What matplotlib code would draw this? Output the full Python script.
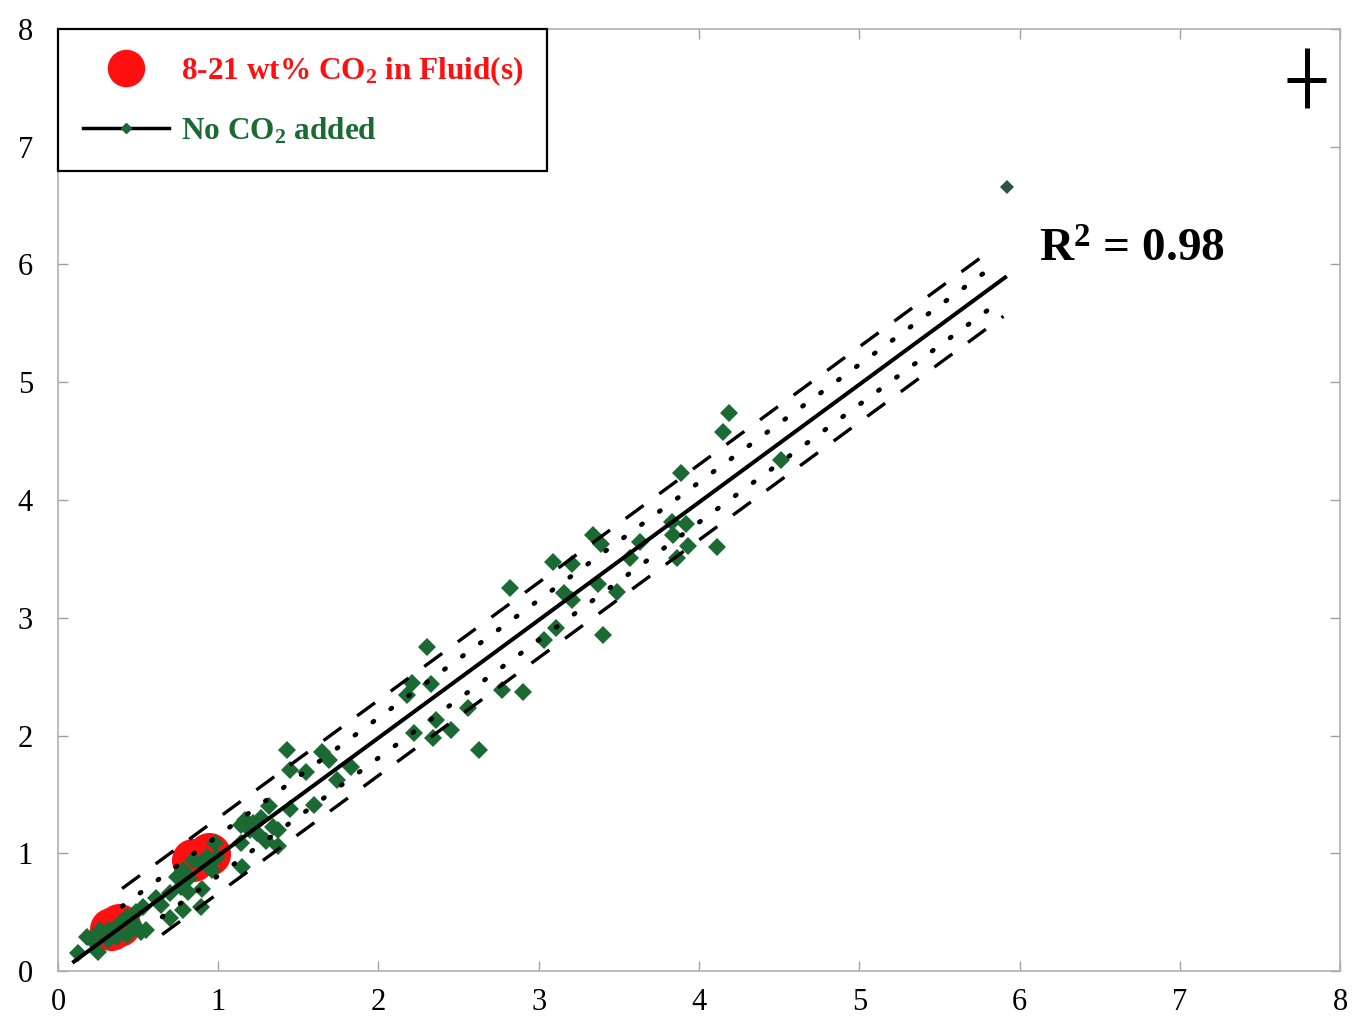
import numpy as np
import matplotlib
matplotlib.use("Agg")
import matplotlib.pyplot as plt
from matplotlib.lines import Line2D

plt.rcParams['font.family'] = ['Liberation Serif', 'DejaVu Serif']
plt.rcParams['mathtext.fontset'] = 'custom'
plt.rcParams['mathtext.rm'] = 'Liberation Serif:bold'
plt.rcParams['mathtext.bf'] = 'Liberation Serif:bold'
plt.rcParams['mathtext.default'] = 'rm'
plt.rcParams['lines.scale_dashes'] = False

# runs with CO2 in the fluid
co2_x = [0.33, 0.38, 0.84, 0.94]
co2_y = [0.36, 0.39, 0.94, 0.99]

# runs without CO2
noco2_x = [5.92, 4.19, 4.15, 3.89, 4.51,
           3.34, 3.39, 3.63, 3.83, 3.92, 3.84, 3.93, 3.86, 4.11, 3.57, 3.09, 3.21,
           3.37, 3.49, 3.16, 3.21, 3.11, 3.03, 3.40,
           2.82, 2.30, 2.21, 2.33, 2.18, 2.77, 2.90,
           2.56, 2.36, 2.22, 2.45, 2.34, 2.63,
           1.43, 1.65, 1.69, 1.45, 1.55, 1.83, 1.74,
           1.32, 1.45, 1.60,
           1.17, 1.27, 1.20, 1.34, 1.37, 1.14, 1.30, 1.37, 1.24, 1.15, 1.14, 1.22,
           0.98, 0.93, 0.99, 0.96, 0.89, 0.84, 0.78, 0.74, 0.82, 0.77, 0.70, 0.90,
           0.81, 0.89, 0.78, 0.70, 0.64, 0.53, 0.61, 0.49, 0.52, 0.43, 0.39, 0.32,
           0.26, 0.31, 0.21, 0.18, 0.25, 0.125, 0.43, 0.37, 0.47, 0.55]
noco2_y = [6.66, 4.74, 4.58, 4.23, 4.34,
           3.70, 3.63, 3.64, 3.81, 3.80, 3.70, 3.61, 3.51, 3.60, 3.51, 3.47, 3.46,
           3.29, 3.22, 3.21, 3.15, 2.91, 2.81, 2.85,
           3.25, 2.75, 2.45, 2.44, 2.34, 2.39, 2.37,
           2.23, 2.13, 2.02, 2.05, 1.98, 1.88,
           1.88, 1.86, 1.79, 1.71, 1.69, 1.73, 1.62,
           1.40, 1.38, 1.41,
           1.28, 1.30, 1.20, 1.22, 1.20, 1.09, 1.10, 1.06, 1.17, 0.88, 1.24, 1.26,
           1.09, 0.97, 0.97, 0.86, 0.92, 0.94, 0.86, 0.80, 0.79, 0.71, 0.66, 0.70,
           0.67, 0.54, 0.52, 0.45, 0.56, 0.54, 0.62, 0.50, 0.33, 0.46, 0.41, 0.35,
           0.35, 0.26, 0.26, 0.29, 0.16, 0.15, 0.31, 0.29, 0.41, 0.35]

# linear fit and its bands
fit_intercept = -0.02
fit_slope = 1.0
fit_range = [0.1, 5.91]
conf_half = 0.17
pred_half = 0.32
upper_range = [0.4, 5.8]
lower_range = [0.65, 5.9]
r_squared = 0.98

axis_ticks = [0, 1, 2, 3, 4, 5, 6, 7, 8]

red = '#ff1010'
green = '#1b6a34'

fig = plt.figure(figsize=(13.54, 10.23), dpi=100)
ax = fig.add_axes([0.0428, 0.0508, 0.9469, 0.9209])

ax.plot(co2_x, co2_y, 'o', color=red, markersize=31, markeredgewidth=0, zorder=2)
ax.plot(noco2_x[1:], noco2_y[1:], 'D', color=green, markersize=9,
        markeredgewidth=0, zorder=3)
# the outlying high run is drawn a little darker
ax.plot(noco2_x[:1], noco2_y[:1], 'D', color='#2b5443', markersize=7.5,
        markeredgewidth=0, zorder=3)

def line_y(x, off=0.0):
    x = np.asarray(x)
    return fit_intercept + fit_slope * x + off

xf = np.array(fit_range)
ax.plot(xf, line_y(xf), color='black', lw=2.9, zorder=4)

xu = np.array(upper_range)
xl = np.array(lower_range)
dash = (0, (16, 14))
dot = (0, (1.0, 15))
ax.plot(xu, line_y(xu, pred_half), color='black', lw=2.4, ls=dash, zorder=4)
ax.plot(xl, line_y(xl, -pred_half), color='black', lw=2.4, ls=dash, zorder=4)
ax.plot(xu, line_y(xu, conf_half), color='black', lw=3.4, ls=dot,
        dash_capstyle='round', zorder=4)
ax.plot(xl, line_y(xl, -conf_half), color='black', lw=3.4, ls=dot,
        dash_capstyle='round', zorder=4)

ax.set_xlim(0, 8)
ax.set_ylim(0, 8)
ax.set_xticks(axis_ticks)
ax.set_yticks(axis_ticks)
ax.tick_params(direction='in', length=7, width=1.0, color='#a0a0a0',
               top=True, right=True, labelsize=22, pad=12)
ax.tick_params(axis='y', pad=18)
for sp in ax.spines.values():
    sp.set_color('#b0b0b0')
    sp.set_linewidth(1.2)

ax.text(6.12, 6.12, r'R$^{2}$ = ' + f'{r_squared:.2f}',
        fontsize=34, fontweight='bold', ha='left', va='center')

# crosshair mark in the corner
ax.plot([0.974, 0.974], [0.916, 0.980], color='black', lw=3.6,
        transform=ax.transAxes, solid_capstyle='butt', clip_on=False)
ax.plot([0.959, 0.989], [0.946, 0.946], color='black', lw=3.6,
        transform=ax.transAxes, solid_capstyle='butt', clip_on=False)

handles = [
    Line2D([], [], ls='none', marker='o', color=red, markersize=27, markeredgewidth=0),
    Line2D([], [], color='black', lw=2.5, marker='D', markerfacecolor=green,
           markeredgecolor=green, markersize=5),
]
labels = ['8-21 wt% CO$_{2}$ in Fluid(s)', 'No CO$_{2}$ added']
leg = ax.legend(handles, labels, loc='upper left', bbox_to_anchor=(0, 1, 0.3815, 0),
                mode='expand', borderaxespad=0, numpoints=1, fancybox=False,
                edgecolor='black', framealpha=1, borderpad=0.8, handlelength=2.75,
                handletextpad=0.4, labelspacing=0.9,
                prop={'family': 'Liberation Serif', 'weight': 'bold', 'size': 22.5})
leg.get_frame().set_linewidth(1.6)
for t, c in zip(leg.get_texts(), [red, green]):
    t.set_color(c)

fig.savefig('out.png', dpi=100)
